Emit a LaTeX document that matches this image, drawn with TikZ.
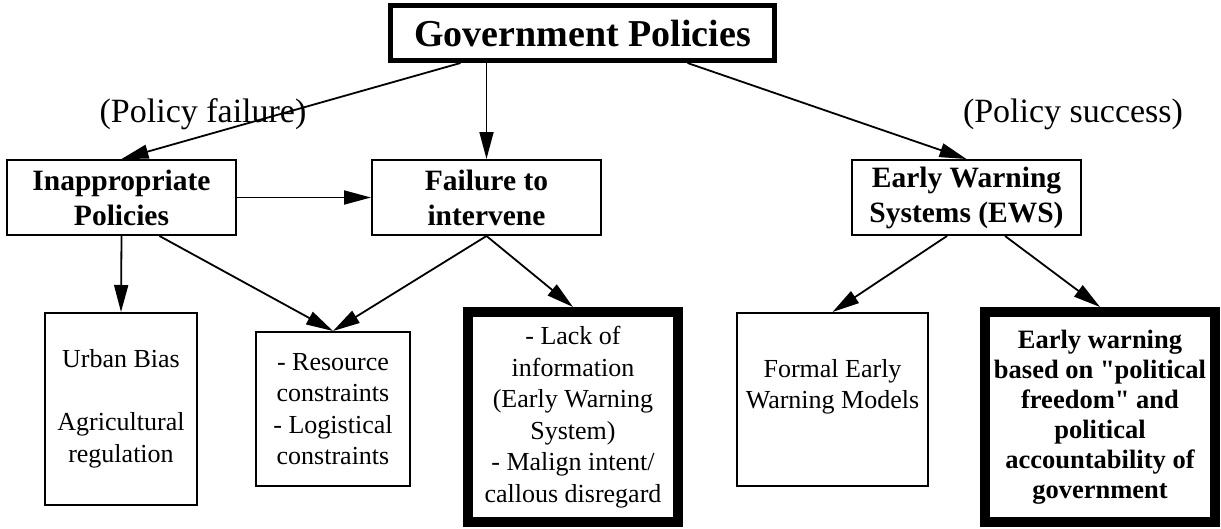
\documentclass[tikz,border=0pt]{standalone}
\usepackage{fontspec}
\setmainfont{Liberation Serif}
\usetikzlibrary{arrows.meta}

\begin{document}
\begin{tikzpicture}[
    x=1pt, y=-1pt,
    box/.style={draw, line width=2pt, inner sep=0pt, align=center, font=\fontsize{26}{31.5}\selectfont},
    headbox/.style={box, minimum width=229pt, minimum height=75pt, font=\bfseries\fontsize{29.5}{35}\selectfont},
    heavybox/.style={box, line width=10pt, minimum width=210pt, minimum height=210pt},
    tag/.style={font=\fontsize{34}{40}\selectfont},
    wire/.style={line width=1.8pt, -{Triangle[length=27pt, width=14pt]}}
  ]
  \useasboundingbox (0,0) rectangle (1221,528);

  \node[box, line width=5pt, minimum width=384pt, minimum height=55pt, font=\bfseries\fontsize{38}{45}\selectfont] (gov) at (582.5,33) {Government Policies};
  \node[tag] (failtag) at (203,114) {(Policy failure)};
  \node[tag] (succtag) at (1073,114) {(Policy success)};

  \node[headbox] (inapp) at (121.5,197.5) {Inappropriate\\Policies};
  \node[headbox] (fail) at (486.5,197.5) {Failure to\\intervene};
  \node[headbox] (ews) at (966.5,197.5) {Early Warning\\Systems (EWS)};

  \node[box, minimum width=152pt, minimum height=192pt] (urban) at (121,409) {Urban Bias\\[31.5pt]Agricultural\\regulation};
  \node[box, minimum width=154pt, minimum height=154pt] (res) at (333,409) {- Resource\\constraints\\- Logistical\\constraints};
  \node[heavybox] (lack) at (573,417) {- Lack of\\information\\(Early Warning\\System)\\- Malign intent/\\callous disregard};
  \node[box, minimum width=191pt, minimum height=173pt] (formal) at (832.5,399.5) {Formal Early\\Warning Models\\\mbox{}};
  \node[heavybox, minimum width=230pt, font=\bfseries\fontsize{26.5}{30}\selectfont] (ewpol) at (1100,417) {Early warning\\based on \textquotedbl political\\freedom\textquotedbl{} and\\political\\accountability of\\government};

  \draw[wire] ([xshift=-122pt]gov.south) -- (inapp.north);
  \draw[wire] (gov.south -| fail.north) -- (fail.north);
  \draw[wire] ([xshift=105pt]gov.south) -- (ews.north);
  \draw[wire] (inapp.east) -- (fail.west);
  \draw[wire] (inapp.south) -- (urban.north);
  \draw[wire] ([xshift=38pt]inapp.south) -- (res.north);
  \draw[wire] (fail.south) -- (res.north);
  \draw[wire] (fail.south) -- (lack.north);
  \draw[wire] ([xshift=-19.5pt]ews.south) -- (formal.north);
  \draw[wire] ([xshift=38.5pt]ews.south) -- (ewpol.north);
\end{tikzpicture}
\end{document}
